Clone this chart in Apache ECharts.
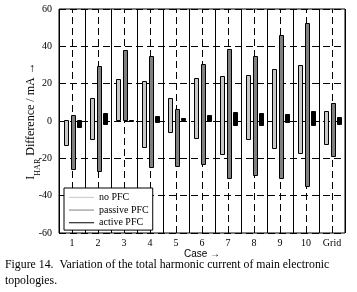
<!DOCTYPE html>
<html>
<head>
<meta charset="utf-8">
<script src="https://cdn.jsdelivr.net/npm/echarts@6/dist/echarts.min.js"></script>
<style>
  html, body { margin: 0; padding: 0; background: #fff; }
  #chart { width: 357px; height: 292px; }
</style>
</head>
<body>
<div id="chart"></div>
<script>
// categories
var cases = ['1', '2', '3', '4', '5', '6', '7', '8', '9', '10', 'Grid'];
var yTicks = [-60, -40, -20, 0, 20, 40, 60];

// range of each bar: low / high (mA)
var noPfcLow  = [-13.0, -9.4, 0.5, -14.3, -6.2, -9.4, -18.0, -10.0, -14.8, -16.9, -12.1];
var noPfcHigh = [0.5, 12.5, 22.7, 21.3, 12.2, 22.9, 23.9, 24.5, 27.7, 30.2, 5.5];
var passiveLow  = [-25.6, -26.4, 0.4, -24.4, -24.4, -23.4, -30.9, -28.9, -30.5, -34.6, -18.5];
var passiveHigh = [3.4, 29.7, 37.9, 35.0, 6.3, 30.4, 38.4, 34.7, 45.9, 52.7, 9.9];
var activeLow  = [-3.2, -1.9, -0.3, -0.5, 0.1, -0.2, -2.1, -2.2, -0.5, -2.2, -1.5];
var activeHigh = [0.3, 4.2, 0.5, 2.7, 1.4, 3.2, 4.8, 4.1, 3.6, 5.2, 2.1];

// where each series sits inside a category (fraction of the band)
var barCfg = [
  { off: -0.224, w: 0.135 },
  { off: 0.035, w: 0.14 },
  { off: 0.275, w: 0.17 }
];

var serif = "'Liberation Serif', 'DejaVu Serif', serif";

function toData(lo, hi) {
  return cases.map(function (c, i) { return [i, lo[i], hi[i]]; });
}

function renderItem(params, api) {
  var cat = api.value(0);
  var top = api.coord([cat, api.value(2)]);
  var bot = api.coord([cat, api.value(1)]);
  var band = api.size([1, 0])[0];
  var cfg = barCfg[params.seriesIndex];
  var w = band * cfg.w;
  var x = top[0] + band * cfg.off - w / 2;
  return {
    type: 'rect',
    shape: { x: Math.round(x) + 0.5, y: Math.round(top[1]) + 0.5, width: Math.round(w), height: Math.max(1, Math.round(bot[1] - top[1])) },
    style: api.style({ stroke: '#000', lineWidth: 1 })
  };
}

var chart = echarts.init(document.getElementById('chart'));

chart.setOption({
  animation: false,
  grid: {
    left: 59, right: 12, top: 9, bottom: 59,
    show: true, borderColor: '#000', borderWidth: 1
  },
  legend: {
    orient: 'vertical',
    left: 64, top: 188,
    padding: [3, 4, 1, 5],
    itemGap: 0,
    itemWidth: 25, itemHeight: 1,
    icon: 'rect',
    backgroundColor: '#fff',
    borderColor: '#000', borderWidth: 1,
    textStyle: { fontFamily: serif, fontSize: 10, color: '#000', lineHeight: 12.7 },
    data: ['no PFC', 'passive PFC', 'active PFC']
  },
  xAxis: {
    type: 'category',
    data: cases,
    boundaryGap: true,
    name: 'Case \u2192',
    nameLocation: 'middle',
    nameGap: 16,
    nameMoveOverlap: false,
    nameTextStyle: { fontFamily: "'Liberation Sans', Arial, sans-serif", fontSize: 10, color: '#000' },
    axisLine: { show: false },
    axisTick: { show: false },
    axisLabel: { fontFamily: serif, fontSize: 10, color: '#000', margin: 5 },
    splitLine: { show: true, lineStyle: { color: '#000', width: 1 } }
  },
  yAxis: {
    type: 'value',
    min: yTicks[0], max: yTicks[yTicks.length - 1], interval: 20,
    name: '{i|I}{s|HAR}{t| Difference / mA \u2192}',
    nameLocation: 'middle',
    nameRotate: 90,
    nameGap: 17,
    nameMoveOverlap: false,
    nameTextStyle: {
      rich: {
        i: { fontFamily: serif, fontSize: 12, color: '#000', lineHeight: 17, verticalAlign: 'top' },
        s: { fontFamily: serif, fontSize: 8, color: '#000', lineHeight: 10, verticalAlign: 'bottom' },
        t: { fontFamily: serif, fontSize: 12, color: '#000', lineHeight: 17, verticalAlign: 'top' }
      }
    },
    axisLine: { show: false },
    axisTick: { show: false },
    axisLabel: { fontFamily: serif, fontSize: 10, color: '#000', margin: 7 },
    splitLine: { show: true, lineStyle: { color: '#000', width: 1, type: [7, 4] } }
  },
  series: [
    {
      name: 'no PFC', type: 'custom', renderItem: renderItem, z: 10,
      itemStyle: { color: '#c8c8c8' },
      encode: { x: 0, y: [1, 2] },
      data: toData(noPfcLow, noPfcHigh),
      markLine: {
        silent: true, symbol: 'none', label: { show: false }, z: 3,
        lineStyle: { color: '#000', width: 1, type: [7, 4] },
        data: cases.map(function (c) { return { xAxis: c }; })
      }
    },
    {
      name: 'passive PFC', type: 'custom', renderItem: renderItem, z: 10,
      itemStyle: { color: '#808080' },
      encode: { x: 0, y: [1, 2] },
      data: toData(passiveLow, passiveHigh)
    },
    {
      name: 'active PFC', type: 'custom', renderItem: renderItem, z: 10,
      itemStyle: { color: '#000' },
      encode: { x: 0, y: [1, 2] },
      data: toData(activeLow, activeHigh)
    }
  ],
  graphic: [
    {
      type: 'text', left: 5, top: 257,
      style: {
        text: 'Figure 14.  Variation of the total harmonic current of main electronic\ntopologies.',
        font: '11.8px ' + serif, fill: '#000', lineHeight: 16
      }
    }
  ]
});
</script>
</body>
</html>
